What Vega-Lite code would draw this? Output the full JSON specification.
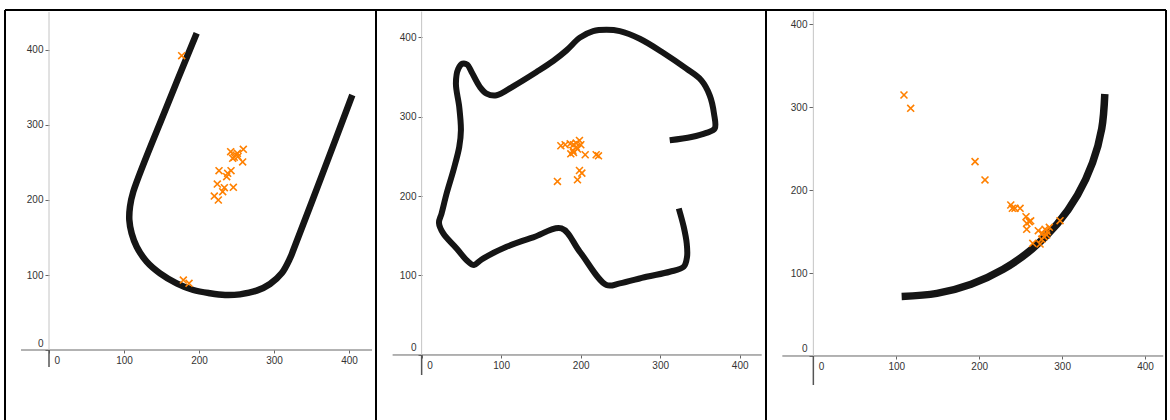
{
  "$schema": "https://vega.github.io/schema/vega-lite/v6.json",
  "padding": {"left": 4, "top": 9, "right": 0, "bottom": 0},
  "bounds": "flush",
  "spacing": 0,
  "config": {"view": {"stroke": null}, "concat": {"spacing": 0}, "background": "white"},
  "datasets": {
    "curve1": [
      {"i": 1, "x": 196.9, "y": 422.2}, {"i": 2, "x": 156.9, "y": 324.4}, {"i": 3, "x": 112.4, "y": 211.1},
      {"i": 4, "x": 108.0, "y": 191.1}, {"i": 5, "x": 107.1, "y": 173.3}, {"i": 6, "x": 110.2, "y": 155.6},
      {"i": 7, "x": 116.9, "y": 137.8}, {"i": 8, "x": 130.2, "y": 117.8}, {"i": 9, "x": 148.0, "y": 102.2},
      {"i": 10, "x": 170.2, "y": 88.9}, {"i": 11, "x": 192.4, "y": 80.0}, {"i": 12, "x": 214.7, "y": 75.6},
      {"i": 13, "x": 234.7, "y": 73.3}, {"i": 14, "x": 254.7, "y": 74.2}, {"i": 15, "x": 276.9, "y": 79.1},
      {"i": 16, "x": 294.7, "y": 88.0}, {"i": 17, "x": 310.2, "y": 102.2}, {"i": 18, "x": 321.3, "y": 122.2},
      {"i": 19, "x": 325.8, "y": 133.3}, {"i": 20, "x": 365.8, "y": 237.8}, {"i": 21, "x": 404.4, "y": 340.0}
    ],
    "pts1": [
      {"x": 176.9, "y": 392.4}, {"x": 179.1, "y": 93.3}, {"x": 186.7, "y": 88.9},
      {"x": 242.2, "y": 264.4}, {"x": 251.1, "y": 262.2}, {"x": 259.1, "y": 267.6},
      {"x": 244.9, "y": 255.6}, {"x": 249.3, "y": 260.0}, {"x": 247.0, "y": 257.0},
      {"x": 252.0, "y": 258.0}, {"x": 258.2, "y": 250.7}, {"x": 226.7, "y": 239.1},
      {"x": 242.7, "y": 239.1}, {"x": 238.2, "y": 235.6}, {"x": 236.9, "y": 231.1},
      {"x": 224.4, "y": 221.3}, {"x": 233.8, "y": 216.4}, {"x": 245.8, "y": 216.9},
      {"x": 231.6, "y": 211.1}, {"x": 220.4, "y": 205.3}, {"x": 225.8, "y": 200.0}
    ],
    "curve2": [
      {"i": 1, "x": 312.0, "y": 270.2}, {"i": 2, "x": 339.3, "y": 274.3}, {"i": 3, "x": 358.1, "y": 279.4},
      {"i": 4, "x": 368.6, "y": 284.8}, {"i": 5, "x": 367.7, "y": 303.7}, {"i": 6, "x": 362.3, "y": 326.7},
      {"i": 7, "x": 351.8, "y": 345.5}, {"i": 8, "x": 333.0, "y": 360.2}, {"i": 9, "x": 303.7, "y": 380.3},
      {"i": 10, "x": 274.3, "y": 397.9}, {"i": 11, "x": 249.2, "y": 407.5}, {"i": 12, "x": 232.5, "y": 409.2},
      {"i": 13, "x": 215.7, "y": 407.5}, {"i": 14, "x": 199.0, "y": 399.2}, {"i": 15, "x": 182.2, "y": 383.2},
      {"i": 16, "x": 165.4, "y": 369.8}, {"i": 17, "x": 144.5, "y": 356.0}, {"i": 18, "x": 115.2, "y": 338.0},
      {"i": 19, "x": 94.2, "y": 326.7}, {"i": 20, "x": 81.7, "y": 328.8}, {"i": 21, "x": 73.3, "y": 337.2},
      {"i": 22, "x": 62.8, "y": 356.0}, {"i": 23, "x": 57.4, "y": 365.2}, {"i": 24, "x": 51.5, "y": 366.5},
      {"i": 25, "x": 46.1, "y": 360.2}, {"i": 26, "x": 43.1, "y": 341.4}, {"i": 27, "x": 47.3, "y": 312.0},
      {"i": 28, "x": 49.4, "y": 282.7}, {"i": 29, "x": 47.3, "y": 261.8}, {"i": 30, "x": 40.6, "y": 234.6},
      {"i": 31, "x": 31.4, "y": 203.1}, {"i": 32, "x": 25.1, "y": 178.0}, {"i": 33, "x": 21.8, "y": 166.3},
      {"i": 34, "x": 27.2, "y": 152.9}, {"i": 35, "x": 44.0, "y": 134.0}, {"i": 36, "x": 58.6, "y": 117.3},
      {"i": 37, "x": 65.8, "y": 113.1}, {"i": 38, "x": 75.4, "y": 120.2}, {"i": 39, "x": 106.8, "y": 136.1},
      {"i": 40, "x": 140.3, "y": 147.9}, {"i": 41, "x": 175.9, "y": 159.2}, {"i": 42, "x": 199.0, "y": 129.8},
      {"i": 43, "x": 232.5, "y": 88.0}, {"i": 44, "x": 249.2, "y": 90.1}, {"i": 45, "x": 282.7, "y": 98.4},
      {"i": 46, "x": 312.0, "y": 104.7}, {"i": 47, "x": 329.6, "y": 111.0}, {"i": 48, "x": 333.8, "y": 123.6},
      {"i": 49, "x": 333.4, "y": 140.3}, {"i": 50, "x": 329.6, "y": 161.3}, {"i": 51, "x": 323.4, "y": 184.3}
    ],
    "pts2": [
      {"x": 175.1, "y": 263.2}, {"x": 180.5, "y": 264.5}, {"x": 186.8, "y": 265.7}, {"x": 191.0, "y": 264.5},
      {"x": 194.4, "y": 266.6}, {"x": 198.5, "y": 269.9}, {"x": 200.2, "y": 264.5}, {"x": 196.0, "y": 259.1},
      {"x": 190.2, "y": 257.3}, {"x": 187.6, "y": 253.1}, {"x": 191.0, "y": 254.8}, {"x": 194.4, "y": 261.6},
      {"x": 205.7, "y": 251.9}, {"x": 219.5, "y": 251.9}, {"x": 222.4, "y": 250.6}, {"x": 198.5, "y": 232.1},
      {"x": 201.5, "y": 228.8}, {"x": 196.0, "y": 220.4}, {"x": 170.8, "y": 218.3}
    ],
    "curve3": [
      {"i": 1, "x": 106.5, "y": 71.8}, {"i": 2, "x": 149.0, "y": 75.5}, {"i": 3, "x": 190.3, "y": 86.6},
      {"i": 4, "x": 229.0, "y": 104.6}, {"i": 5, "x": 264.0, "y": 129.1}, {"i": 6, "x": 294.2, "y": 159.3},
      {"i": 7, "x": 318.7, "y": 194.3}, {"i": 8, "x": 336.7, "y": 233.0}, {"i": 9, "x": 347.8, "y": 274.3},
      {"i": 10, "x": 351.5, "y": 316.0}
    ],
    "pts3": [
      {"x": 109.3, "y": 314.8}, {"x": 117.4, "y": 298.7}, {"x": 195.0, "y": 234.4}, {"x": 207.0, "y": 212.3},
      {"x": 238.1, "y": 182.1}, {"x": 240.0, "y": 178.1}, {"x": 243.2, "y": 178.1}, {"x": 249.3, "y": 178.1},
      {"x": 256.5, "y": 168.0}, {"x": 260.5, "y": 162.0}, {"x": 262.1, "y": 163.0}, {"x": 257.3, "y": 160.0},
      {"x": 257.3, "y": 152.8}, {"x": 271.3, "y": 151.1}, {"x": 276.0, "y": 148.0}, {"x": 279.4, "y": 152.8},
      {"x": 282.2, "y": 149.9}, {"x": 284.6, "y": 155.2}, {"x": 278.2, "y": 143.9}, {"x": 281.4, "y": 146.0},
      {"x": 275.4, "y": 140.7}, {"x": 264.6, "y": 135.9}, {"x": 273.4, "y": 135.0}, {"x": 297.5, "y": 163.2}
    ]
  },
  "hconcat": [
    {
      "width": 371, "height": 410,
      "layer": [
        {"data": {"name": "curve1"},
         "mark": {"type": "line", "interpolate": "catmull-rom", "stroke": "#151515", "strokeWidth": 6.5, "strokeCap": "butt", "strokeJoin": "round"},
         "encoding": {
           "x": {"field": "x", "type": "quantitative", "scale": {"domain": [-58.67, 436], "nice": false, "zero": false},
                 "axis": {"values": [0, 100, 200, 300, 400], "title": null, "domain": false, "grid": false, "offset": -70,
                          "tickSize": 3, "tickColor": "#666", "labelFont": "Liberation Sans", "labelFontSize": 10, "labelColor": "#333",
                          "labelPadding": 2, "labelFlush": false, "labelOverlap": false, "labelBound": false,
                          "labelAlign": {"condition": {"test": "datum.value === 0", "value": "left"}, "value": "center"},
                          "labelOffset": {"condition": {"test": "datum.value === 0", "value": 5}, "value": 0}}},
           "y": {"field": "y", "type": "quantitative", "scale": {"domain": [-93.33, 453.33], "nice": false, "zero": false},
                 "axis": {"values": [0, 100, 200, 300, 400], "title": null, "domain": false, "grid": false, "offset": -44,
                          "tickSize": 4, "tickColor": "#666", "labelFont": "Liberation Sans", "labelFontSize": 10, "labelColor": "#333",
                          "labelPadding": 2, "labelFlush": false, "labelOverlap": false, "labelBound": false,
                          "labelOffset": {"condition": {"test": "datum.value === 0", "value": -7}, "value": 0}}},
           "order": {"field": "i", "type": "quantitative"}}},
        {"data": {"values": [{}]}, "mark": {"type": "rule", "stroke": "#666", "strokeWidth": 1},
         "encoding": {"x": {"datum": -37.3, "type": "quantitative", "scale": {"domain": [-58.67, 436], "nice": false, "zero": false}},
                      "x2": {"datum": 430.7},
                      "y": {"datum": 0, "type": "quantitative", "scale": {"domain": [-93.33, 453.33], "nice": false, "zero": false}}}},
        {"data": {"values": [{}]}, "mark": {"type": "rule", "stroke": "#c4c4c4", "strokeWidth": 1},
         "encoding": {"x": {"datum": 0, "type": "quantitative", "scale": {"domain": [-58.67, 436], "nice": false, "zero": false}},
                      "y": {"datum": 0, "type": "quantitative", "scale": {"domain": [-93.33, 453.33], "nice": false, "zero": false}},
                      "y2": {"datum": 450.7}}},
        {"data": {"values": [{}]}, "mark": {"type": "rule", "stroke": "#555", "strokeWidth": 1.5},
         "encoding": {"x": {"datum": 0, "type": "quantitative", "scale": {"domain": [-58.67, 436], "nice": false, "zero": false}},
                      "y": {"datum": -22.7, "type": "quantitative", "scale": {"domain": [-93.33, 453.33], "nice": false, "zero": false}},
                      "y2": {"datum": 0}}},
        {"data": {"name": "pts1"},
         "mark": {"type": "point", "shape": "M-1,-1L1,1M-1,1L1,-1", "filled": false, "stroke": "#ff8000", "strokeWidth": 1.6, "size": 48, "opacity": 1},
         "encoding": {"x": {"field": "x", "type": "quantitative", "scale": {"domain": [-58.67, 436], "nice": false, "zero": false}},
                      "y": {"field": "y", "type": "quantitative", "scale": {"domain": [-93.33, 453.33], "nice": false, "zero": false}}}},
        {"data": {"values": [{}]}, "mark": {"type": "rule", "stroke": "#000", "strokeWidth": 2},
         "encoding": {"x": {"datum": -58.67, "type": "quantitative", "scale": {"domain": [-58.67, 436], "nice": false, "zero": false}}}},
        {"data": {"values": [{}]}, "mark": {"type": "rule", "stroke": "#000", "strokeWidth": 2},
         "encoding": {"x": {"datum": 436, "type": "quantitative", "scale": {"domain": [-58.67, 436], "nice": false, "zero": false}}}},
        {"data": {"values": [{}]}, "mark": {"type": "rule", "stroke": "#000", "strokeWidth": 2},
         "encoding": {"y": {"datum": 453.33, "type": "quantitative", "scale": {"domain": [-93.33, 453.33], "nice": false, "zero": false}}}}
      ]
    },
    {
      "width": 390, "height": 410,
      "layer": [
        {"data": {"name": "curve2"},
         "mark": {"type": "line", "interpolate": "catmull-rom", "stroke": "#151515", "strokeWidth": 6, "strokeCap": "butt", "strokeJoin": "round"},
         "encoding": {
           "x": {"field": "x", "type": "quantitative", "scale": {"domain": [-57.4, 433.1], "nice": false, "zero": false},
                 "axis": {"values": [0, 100, 200, 300, 400], "title": null, "domain": false, "grid": false, "offset": -65,
                          "tickSize": 3, "tickColor": "#666", "labelFont": "Liberation Sans", "labelFontSize": 10, "labelColor": "#333",
                          "labelPadding": 2, "labelFlush": false, "labelOverlap": false, "labelBound": false,
                          "labelAlign": {"condition": {"test": "datum.value === 0", "value": "left"}, "value": "center"},
                          "labelOffset": {"condition": {"test": "datum.value === 0", "value": 5}, "value": 0}}},
           "y": {"field": "y", "type": "quantitative", "scale": {"domain": [-81.8, 434], "nice": false, "zero": false},
                 "axis": {"values": [0, 100, 200, 300, 400], "title": null, "domain": false, "grid": false, "offset": -46,
                          "tickSize": 4, "tickColor": "#666", "labelFont": "Liberation Sans", "labelFontSize": 10, "labelColor": "#333",
                          "labelPadding": 2, "labelFlush": false, "labelOverlap": false, "labelBound": false,
                          "labelOffset": {"condition": {"test": "datum.value === 0", "value": -7}, "value": 0}}},
           "order": {"field": "i", "type": "quantitative"}}},
        {"data": {"values": [{}]}, "mark": {"type": "rule", "stroke": "#666", "strokeWidth": 1},
         "encoding": {"x": {"datum": -36.5, "type": "quantitative", "scale": {"domain": [-57.4, 433.1], "nice": false, "zero": false}},
                      "x2": {"datum": 427.7},
                      "y": {"datum": 0, "type": "quantitative", "scale": {"domain": [-81.8, 434], "nice": false, "zero": false}}}},
        {"data": {"values": [{}]}, "mark": {"type": "rule", "stroke": "#c4c4c4", "strokeWidth": 1},
         "encoding": {"x": {"datum": 0, "type": "quantitative", "scale": {"domain": [-57.4, 433.1], "nice": false, "zero": false}},
                      "y": {"datum": 0, "type": "quantitative", "scale": {"domain": [-81.8, 434], "nice": false, "zero": false}},
                      "y2": {"datum": 432}}},
        {"data": {"values": [{}]}, "mark": {"type": "rule", "stroke": "#555", "strokeWidth": 1.5},
         "encoding": {"x": {"datum": 0, "type": "quantitative", "scale": {"domain": [-57.4, 433.1], "nice": false, "zero": false}},
                      "y": {"datum": -25.2, "type": "quantitative", "scale": {"domain": [-81.8, 434], "nice": false, "zero": false}},
                      "y2": {"datum": 0}}},
        {"data": {"name": "pts2"},
         "mark": {"type": "point", "shape": "M-1,-1L1,1M-1,1L1,-1", "filled": false, "stroke": "#ff8000", "strokeWidth": 1.6, "size": 48, "opacity": 1},
         "encoding": {"x": {"field": "x", "type": "quantitative", "scale": {"domain": [-57.4, 433.1], "nice": false, "zero": false}},
                      "y": {"field": "y", "type": "quantitative", "scale": {"domain": [-81.8, 434], "nice": false, "zero": false}}}},
        {"data": {"values": [{}]}, "mark": {"type": "rule", "stroke": "#000", "strokeWidth": 2},
         "encoding": {"x": {"datum": 433.1, "type": "quantitative", "scale": {"domain": [-57.4, 433.1], "nice": false, "zero": false}}}},
        {"data": {"values": [{}]}, "mark": {"type": "rule", "stroke": "#000", "strokeWidth": 2},
         "encoding": {"y": {"datum": 434, "type": "quantitative", "scale": {"domain": [-81.8, 434], "nice": false, "zero": false}}}}
      ]
    },
    {
      "width": 400, "height": 410,
      "layer": [
        {"data": {"name": "curve3"},
         "mark": {"type": "line", "interpolate": "catmull-rom", "stroke": "#151515", "strokeWidth": 7.5, "strokeCap": "butt", "strokeJoin": "round"},
         "encoding": {
           "x": {"field": "x", "type": "quantitative", "scale": {"domain": [-57.1, 425.3], "nice": false, "zero": false},
                 "axis": {"values": [0, 100, 200, 300, 400], "title": null, "domain": false, "grid": false, "offset": -64,
                          "tickSize": 3, "tickColor": "#666", "labelFont": "Liberation Sans", "labelFontSize": 10, "labelColor": "#333",
                          "labelPadding": 2, "labelFlush": false, "labelOverlap": false, "labelBound": false,
                          "labelAlign": {"condition": {"test": "datum.value === 0", "value": "left"}, "value": "center"},
                          "labelOffset": {"condition": {"test": "datum.value === 0", "value": 5}, "value": 0}}},
           "y": {"field": "y", "type": "quantitative", "scale": {"domain": [-77.2, 417.3], "nice": false, "zero": false},
                 "axis": {"values": [0, 100, 200, 300, 400], "title": null, "domain": false, "grid": false, "offset": -47,
                          "tickSize": 4, "tickColor": "#666", "labelFont": "Liberation Sans", "labelFontSize": 10, "labelColor": "#333",
                          "labelPadding": 2, "labelFlush": false, "labelOverlap": false, "labelBound": false,
                          "labelOffset": {"condition": {"test": "datum.value === 0", "value": -7}, "value": 0}}},
           "order": {"field": "i", "type": "quantitative"}}},
        {"data": {"values": [{}]}, "mark": {"type": "rule", "stroke": "#666", "strokeWidth": 1},
         "encoding": {"x": {"datum": -37.4, "type": "quantitative", "scale": {"domain": [-57.1, 425.3], "nice": false, "zero": false}},
                      "x2": {"datum": 422},
                      "y": {"datum": 0, "type": "quantitative", "scale": {"domain": [-77.2, 417.3], "nice": false, "zero": false}}}},
        {"data": {"values": [{}]}, "mark": {"type": "rule", "stroke": "#c4c4c4", "strokeWidth": 1},
         "encoding": {"x": {"datum": 0, "type": "quantitative", "scale": {"domain": [-57.1, 425.3], "nice": false, "zero": false}},
                      "y": {"datum": 0, "type": "quantitative", "scale": {"domain": [-77.2, 417.3], "nice": false, "zero": false}},
                      "y2": {"datum": 415.2}}},
        {"data": {"values": [{}]}, "mark": {"type": "rule", "stroke": "#555", "strokeWidth": 1.5},
         "encoding": {"x": {"datum": 0, "type": "quantitative", "scale": {"domain": [-57.1, 425.3], "nice": false, "zero": false}},
                      "y": {"datum": -35, "type": "quantitative", "scale": {"domain": [-77.2, 417.3], "nice": false, "zero": false}},
                      "y2": {"datum": 0}}},
        {"data": {"name": "pts3"},
         "mark": {"type": "point", "shape": "M-1,-1L1,1M-1,1L1,-1", "filled": false, "stroke": "#ff8000", "strokeWidth": 1.6, "size": 48, "opacity": 1},
         "encoding": {"x": {"field": "x", "type": "quantitative", "scale": {"domain": [-57.1, 425.3], "nice": false, "zero": false}},
                      "y": {"field": "y", "type": "quantitative", "scale": {"domain": [-77.2, 417.3], "nice": false, "zero": false}}}},
        {"data": {"values": [{}]}, "mark": {"type": "rule", "stroke": "#000", "strokeWidth": 2},
         "encoding": {"x": {"datum": 425.3, "type": "quantitative", "scale": {"domain": [-57.1, 425.3], "nice": false, "zero": false}}}},
        {"data": {"values": [{}]}, "mark": {"type": "rule", "stroke": "#000", "strokeWidth": 2},
         "encoding": {"y": {"datum": 417.3, "type": "quantitative", "scale": {"domain": [-77.2, 417.3], "nice": false, "zero": false}}}}
      ]
    }
  ]
}
